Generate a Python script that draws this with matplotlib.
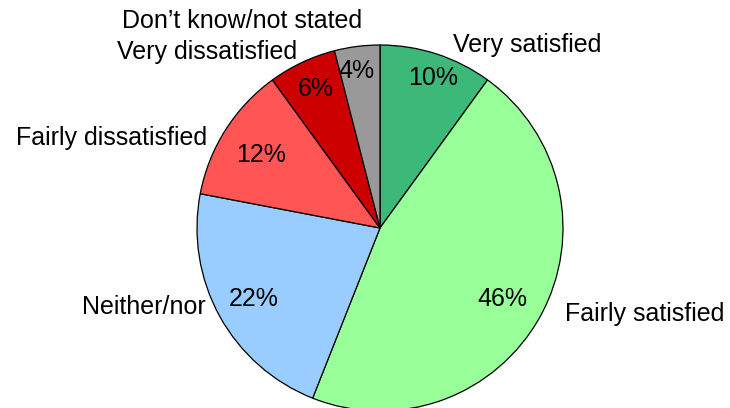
import matplotlib
matplotlib.use("Agg")
import matplotlib.pyplot as plt

# satisfaction breakdown, clockwise from the top
categories = ["Very satisfied", "Fairly satisfied", "Neither/nor",
              "Fairly dissatisfied", "Very dissatisfied", "Don\u2019t know/not stated"]
shares = [10, 46, 22, 12, 6, 4]
colours = ["#3cb878", "#99ff99", "#99ccff", "#ff5555", "#cc0000", "#999999"]

# where each category name and percentage sits (radius = 1)
label_pos = [(0.40, 1.00, "left"), (1.01, -0.47, "left"), (-0.95, -0.43, "right"),
             (-0.945, 0.49, "right"), (-0.455, 0.96, "right"), (-0.10, 1.13, "right")]
pct_pos = [(0.29, 0.82), (0.67, -0.39), (-0.69, -0.39),
           (-0.65, 0.40), (-0.35, 0.76), (-0.13, 0.86)]

plt.rcParams["font.family"] = ["Liberation Sans", "DejaVu Sans"]

fig = plt.figure(figsize=(7.3, 4.08), dpi=100)
ax = fig.add_axes([0, 0, 1, 1])

wedges, texts, pcts = ax.pie(shares, labels=categories, colors=colours,
                             startangle=90, counterclock=False,
                             autopct="%d%%", radius=1,
                             wedgeprops=dict(edgecolor="black", linewidth=0.9),
                             textprops=dict(fontsize=18, color="black"))

for t, (x, y, ha) in zip(texts, label_pos):
    t.set_position((x, y))
    t.set_ha(ha)
    t.set_va("center")
for t, (x, y) in zip(pcts, pct_pos):
    t.set_position((x, y))
    t.set_ha("center")
    t.set_va("center")

ax.set_aspect("equal")
ax.set_xlim(-380 / 183, 350 / 183)
ax.set_ylim(-180 / 183, 228 / 183)
ax.axis("off")

fig.savefig("out.png", dpi=100)
